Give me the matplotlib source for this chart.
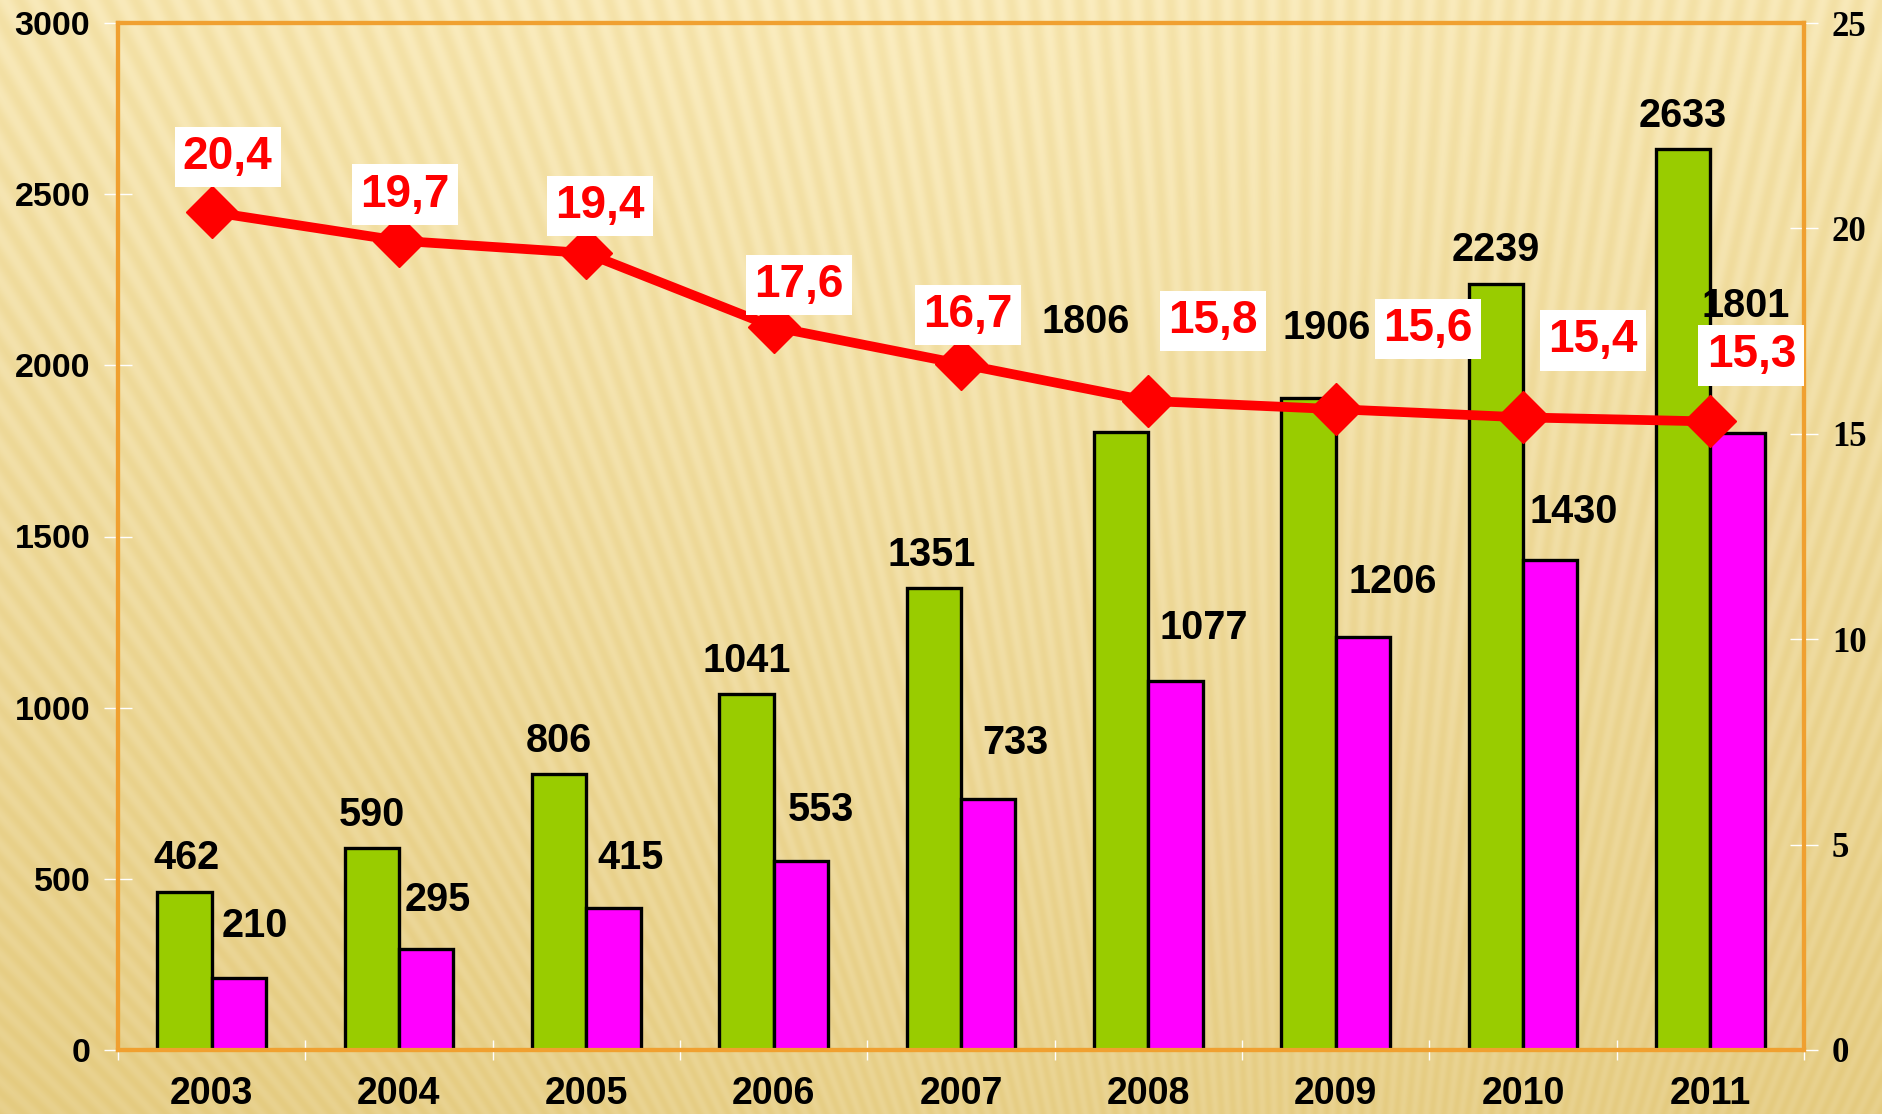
import numpy as np
import matplotlib.pyplot as plt

years = ["2003", "2004", "2005", "2006", "2007", "2008", "2009", "2010", "2011"]
green_vals = [462, 590, 806, 1041, 1351, 1806, 1906, 2239, 2633]
pink_vals = [210, 295, 415, 553, 733, 1077, 1206, 1430, 1801]
ratio_vals = [20.4, 19.7, 19.4, 17.6, 16.7, 15.8, 15.6, 15.4, 15.3]
ratio_labels = ["20,4", "19,7", "19,4", "17,6", "16,7", "15,8", "15,6", "15,4", "15,3"]

left_ticks = [0, 500, 1000, 1500, 2000, 2500, 3000]
right_ticks = [0, 5, 10, 15, 20, 25]

# label offsets in pixels (dx, dy)
green_off = [(2, 34), (0, 33), (0, 33), (0, 33), (-2, 33), (-36, 110), (18, 70), (0, 34), (0, 33)]
pink_off = [(16, 52), (12, 49), (17, 50), (20, 51), (27, 56), (28, 53), (30, 55), (24, 48), (8, 127)]
red_off = [(16, 55), (6, 46), (14, 47), (25, 42), (7, 49), (65, 80), (92, 80), (70, 77), (41, 66)]

W, H = 1883, 1114
fig = plt.figure(figsize=(W / 100, H / 100), dpi=100)

# background: warm gradient with faint rays
bg = fig.add_axes([0, 0, 1, 1])
yy, xx = np.mgrid[0:H, 0:W].astype(float)
ang = np.arctan2(xx - 1300, 2300 - yy)
stripe = 0.5 + 0.5 * np.sin(ang * 640)
t = np.clip(yy / H * 0.8 + np.abs(xx - 900) / W * 0.25, 0, 1)
light = np.array([251, 237, 192]) / 255
dark = np.array([230, 206, 136]) / 255
base = light[None, None, :] * (1 - t[..., None]) + dark[None, None, :] * t[..., None]
img = base - stripe[..., None] * np.array([0.02, 0.035, 0.08]) * (1 - 0.4 * t[..., None])
bg.imshow(np.clip(img, 0, 1), aspect="auto", extent=[0, 1, 0, 1])
bg.axis("off")

ax = fig.add_axes([118 / W, 64 / H, 1686 / W, 1027 / H])
ax.patch.set_alpha(0)
x = np.arange(len(years))
w = 0.29

ax.bar(x - w / 2, green_vals, w, color="#99CC00", edgecolor="black", linewidth=2.4, zorder=3)
ax.bar(x + w / 2, pink_vals, w, color="#FF00FF", edgecolor="black", linewidth=2.4, zorder=3)
ax.set_xlim(-0.5, len(years) - 0.5)
ax.set_ylim(0, 3000)
ax.set_yticks(left_ticks)
ax.set_xticks(x)
ax.set_xticklabels(years)
ax.set_xticks(np.arange(len(years) + 1) - 0.5, minor=True)
ax.tick_params(axis="x", which="major", length=0, pad=19)
ax.tick_params(axis="x", which="minor", direction="inout", length=14, color="white", width=1)
ax.tick_params(axis="y", direction="inout", length=20, color="white", width=1, pad=10)
for lab in ax.get_xticklabels() + ax.get_yticklabels():
    lab.set_fontfamily("Liberation Sans")
    lab.set_fontweight("bold")
for lab in ax.get_xticklabels():
    lab.set_fontsize(27)
for lab in ax.get_yticklabels():
    lab.set_fontsize(24.5)
for s in ax.spines.values():
    s.set_color("#F0A030")
    s.set_linewidth(3)

for i in range(len(years)):
    ax.annotate(str(green_vals[i]), (x[i] - w / 2, green_vals[i]), xytext=green_off[i],
                textcoords="offset pixels", ha="center", va="center", fontsize=28.5,
                fontweight="bold", family="Liberation Sans", zorder=6)
    ax.annotate(str(pink_vals[i]), (x[i] + w / 2, pink_vals[i]), xytext=pink_off[i],
                textcoords="offset pixels", ha="center", va="center", fontsize=28.5,
                fontweight="bold", family="Liberation Sans", zorder=6)

ax2 = ax.twinx()
ax2.set_ylim(0, 25)
ax2.set_yticks(right_ticks)
ax2.plot(x, ratio_vals, color="#FF0000", linewidth=7, marker="D", markersize=26, zorder=5)
ax2.tick_params(axis="y", direction="inout", length=20, color="white", width=1, pad=10)
for lab in ax2.get_yticklabels():
    lab.set_fontfamily("Liberation Serif")
    lab.set_fontweight("bold")
    lab.set_fontsize(25)
for s in ax2.spines.values():
    s.set_color("#F0A030")
    s.set_linewidth(3)

for i in range(len(years)):
    ax2.annotate(ratio_labels[i], (x[i], ratio_vals[i]), xytext=red_off[i],
                 textcoords="offset pixels", ha="center", va="center", fontsize=33,
                 fontweight="bold", family="Liberation Sans", color="#FF0000", zorder=7,
                 bbox=dict(boxstyle="square,pad=0.18", fc="white", ec="none"))

fig.savefig("out.png", dpi=100)
